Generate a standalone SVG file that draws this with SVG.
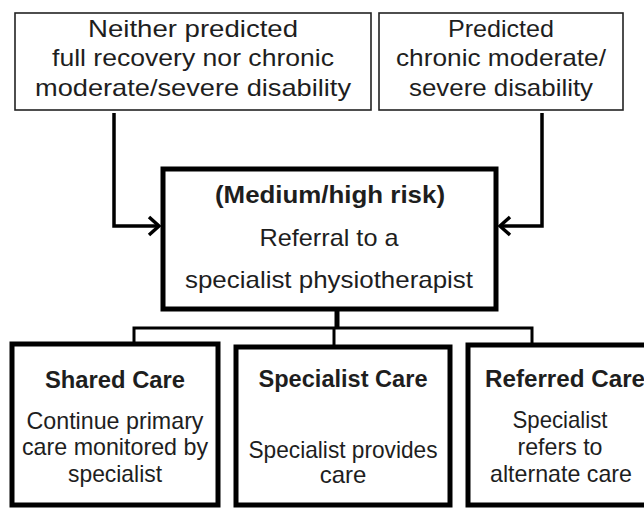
<svg xmlns="http://www.w3.org/2000/svg" width="644" height="508" viewBox="0 0 644 508">
<style>
text{font-family:"Liberation Sans",Arial,sans-serif;font-size:24px;fill:#1e1e1e;text-anchor:middle}
.b{font-weight:bold}
.thin{fill:#fff;stroke:#222;stroke-width:1.6}
.mid{fill:#fff;stroke:#000;stroke-width:5}
.bot{fill:#fff;stroke:#000;stroke-width:5}
.conn{fill:none;stroke:#000;stroke-width:3.5;stroke-linejoin:miter}
</style>
<rect width="644" height="508" fill="#fff"/>
<g id="connectors">
<polyline class="conn" points="114,113 114,226 159,226"/>
<polyline class="conn" points="149,217 159,226 149,235"/>
<polyline class="conn" points="542,113 542,226 500,226"/>
<polyline class="conn" points="510,217 500,226 510,235"/>
<line class="conn" x1="337" y1="309" x2="337" y2="329" style="stroke-width:5"/>
<polyline class="conn" points="134,345 134,328 532,328 532,346" style="stroke-width:3"/>
<line class="conn" x1="334" y1="328" x2="334" y2="348" style="stroke-width:3"/>
</g>
<g id="node-neither">
<rect class="thin" x="15" y="13" width="356" height="97"/>
<text x="193" y="37" textLength="210" lengthAdjust="spacingAndGlyphs">Neither predicted</text>
<text x="193" y="66" textLength="282" lengthAdjust="spacingAndGlyphs">full recovery nor chronic</text>
<text x="193" y="96" textLength="316" lengthAdjust="spacingAndGlyphs">moderate/severe disability</text>
</g>
<g id="node-predicted">
<rect class="thin" x="379" y="13" width="244" height="97"/>
<text x="501" y="37" textLength="106" lengthAdjust="spacingAndGlyphs">Predicted</text>
<text x="501" y="66" textLength="210" lengthAdjust="spacingAndGlyphs">chronic moderate/</text>
<text x="501" y="96" textLength="184" lengthAdjust="spacingAndGlyphs">severe disability</text>
</g>
<g id="node-referral">
<rect class="mid" x="163" y="169" width="333" height="140"/>
<text class="b" x="330" y="203" textLength="230" lengthAdjust="spacingAndGlyphs">(Medium/high risk)</text>
<text x="329" y="246" textLength="139" lengthAdjust="spacingAndGlyphs">Referral to a</text>
<text x="329" y="288" textLength="288" lengthAdjust="spacingAndGlyphs">specialist physiotherapist</text>
</g>
<g id="node-shared">
<rect class="bot" x="12" y="344" width="206" height="161"/>
<text class="b" x="115" y="388" textLength="140" lengthAdjust="spacingAndGlyphs">Shared Care</text>
<text x="115" y="429" textLength="177" lengthAdjust="spacingAndGlyphs">Continue primary</text>
<text x="115" y="455" textLength="186" lengthAdjust="spacingAndGlyphs">care monitored by</text>
<text x="115" y="482" textLength="94" lengthAdjust="spacingAndGlyphs">specialist</text>
</g>
<g id="node-specialist">
<rect class="bot" x="236" y="347" width="214" height="158"/>
<text class="b" x="343" y="387" textLength="169" lengthAdjust="spacingAndGlyphs">Specialist Care</text>
<text x="343" y="458" textLength="189" lengthAdjust="spacingAndGlyphs">Specialist provides</text>
<text x="343" y="483">care</text>
</g>
<g id="node-referred">
<rect class="bot" x="468" y="345" width="190" height="160"/>
<text class="b" x="485" y="387" style="text-anchor:start" textLength="160" lengthAdjust="spacingAndGlyphs">Referred Care</text>
<text x="560" y="428" textLength="95" lengthAdjust="spacingAndGlyphs">Specialist</text>
<text x="560" y="455" textLength="85" lengthAdjust="spacingAndGlyphs">refers to</text>
<text x="561" y="482" textLength="142" lengthAdjust="spacingAndGlyphs">alternate care</text>
</g>
</svg>
